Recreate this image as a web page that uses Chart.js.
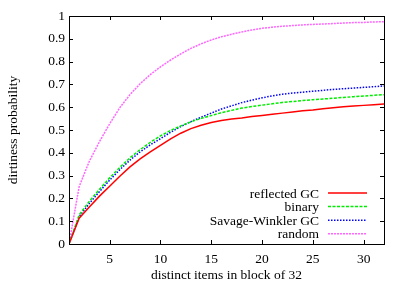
<!DOCTYPE html>
<html>
<head>
<meta charset="utf-8">
<script src="https://cdn.jsdelivr.net/npm/chart.js@4.4.1/dist/chart.umd.min.js"></script>
<style>
html, body { margin: 0; padding: 0; background: #fff; }
</style>
</head>
<body>
<canvas id="dirtChart" width="407" height="285"></canvas>
<script>
// distinct items in a block of 32
const items = [1, 2, 3, 4, 5, 6, 7, 8, 9, 10, 11, 12, 13, 14, 15, 16,
               17, 18, 19, 20, 21, 22, 23, 24, 25, 26, 27, 28, 29, 30, 31, 32];

const reflectedGC = [0, 0.113, 0.162, 0.21, 0.253, 0.297, 0.338, 0.373, 0.404, 0.433, 0.461, 0.486,
                     0.506, 0.521, 0.533, 0.542, 0.548, 0.553, 0.559, 0.564, 0.569, 0.574, 0.579, 0.584,
                     0.588, 0.593, 0.598, 0.602, 0.605, 0.608, 0.611, 0.614];
const binary = [0, 0.128, 0.187, 0.24, 0.29, 0.336, 0.378, 0.414, 0.446, 0.474, 0.498, 0.518,
                0.536, 0.551, 0.563, 0.576, 0.586, 0.596, 0.603, 0.609, 0.615, 0.621, 0.625, 0.629,
                0.633, 0.636, 0.639, 0.643, 0.646, 0.649, 0.652, 0.655];
const savageWinkler = [0, 0.12, 0.178, 0.23, 0.28, 0.326, 0.368, 0.404, 0.435, 0.462, 0.49, 0.515,
                       0.537, 0.556, 0.574, 0.592, 0.606, 0.62, 0.631, 0.641, 0.65, 0.657, 0.662, 0.666,
                       0.67, 0.674, 0.678, 0.681, 0.684, 0.687, 0.69, 0.693];
const random = [0, 0.252, 0.363, 0.449, 0.527, 0.598, 0.655, 0.703, 0.743, 0.777, 0.807, 0.834,
                0.858, 0.878, 0.895, 0.909, 0.92, 0.93, 0.939, 0.946, 0.951, 0.955, 0.958, 0.961,
                0.963, 0.965, 0.967, 0.969, 0.971, 0.972, 0.974, 0.975];

const xTicks = [5, 10, 15, 20, 25, 30];
const yTicks = [0, 0.1, 0.2, 0.3, 0.4, 0.5, 0.6, 0.7, 0.8, 0.9, 1];

const series = [
    { label: "reflected GC", values: reflectedGC, color: "#ff0000", dash: [] },
    { label: "binary", values: binary, color: "#00ee00", dash: [3, 1.5] },
    { label: "Savage-Winkler GC", values: savageWinkler, color: "#0000ff", dash: [1.5, 1.5] },
    { label: "random", values: random, color: "#ff66ff", dash: [2, 1] }
];

Chart.defaults.font.family = "'Liberation Serif', 'Times New Roman', serif";
Chart.defaults.font.size = 13.5;
Chart.defaults.color = "#000";

// gnuplot style box with inward ticks on all four sides
const frame = {
    id: "frame",
    afterDatasetsDraw(chart) {
        const ctx = chart.ctx, a = chart.chartArea;
        const xs = chart.scales.x, ys = chart.scales.y;
        ctx.save();
        ctx.strokeStyle = "#000";
        ctx.lineWidth = 1;
        ctx.beginPath();
        xTicks.forEach(v => {
            const px = Math.round(xs.getPixelForValue(v)) + 0.5;
            ctx.moveTo(px, a.bottom); ctx.lineTo(px, a.bottom - 4);
            ctx.moveTo(px, a.top); ctx.lineTo(px, a.top + 4);
        });
        yTicks.forEach(v => {
            const py = Math.round(ys.getPixelForValue(v)) + 0.5;
            ctx.moveTo(a.left, py); ctx.lineTo(a.left + 4, py);
            ctx.moveTo(a.right, py); ctx.lineTo(a.right - 4, py);
        });
        ctx.stroke();
        ctx.strokeRect(Math.round(a.left) + 0.5, Math.round(a.top) + 0.5,
                       Math.round(a.right - a.left), Math.round(a.bottom - a.top));
        ctx.restore();
    }
};

// legend in the lower right corner, text right aligned before the sample line
const keyBox = {
    id: "keyBox",
    afterDraw(chart) {
        const ctx = chart.ctx, a = chart.chartArea;
        ctx.save();
        ctx.font = "13.5px 'Liberation Serif', 'Times New Roman', serif";
        ctx.textAlign = "right";
        ctx.textBaseline = "middle";
        chart.data.datasets.forEach((ds, i) => {
            const y = a.bottom - 51 + i * 13.6;
            ctx.fillStyle = "#000";
            ctx.fillText(ds.label, a.right - 65, y + 1);
            ctx.strokeStyle = ds.borderColor;
            ctx.lineWidth = ds.borderWidth;
            ctx.setLineDash(ds.borderDash);
            ctx.beginPath();
            ctx.moveTo(a.right - 56, y);
            ctx.lineTo(a.right - 17, y);
            ctx.stroke();
        });
        ctx.restore();
    }
};

new Chart(document.getElementById("dirtChart").getContext("2d"), {
    type: "line",
    data: {
        datasets: series.map(s => ({
            label: s.label,
            data: items.map((x, i) => ({ x: x, y: s.values[i] })),
            borderColor: s.color,
            borderWidth: 1.5,
            borderDash: s.dash,
            pointRadius: 0,
            tension: 0,
            fill: false
        }))
    },
    options: {
        responsive: false,
        animation: false,
        layout: { padding: { left: 0, right: 23, top: 16, bottom: 0 } },
        plugins: {
            legend: { display: false },
            tooltip: { enabled: false }
        },
        scales: {
            x: {
                type: "linear",
                min: 1,
                max: 32,
                grid: { display: false, drawTicks: false },
                border: { display: false },
                afterBuildTicks: scale => { scale.ticks = xTicks.map(v => ({ value: v })); },
                afterFit: scale => { scale.height = 41; },
                ticks: { padding: 7, maxRotation: 0, autoSkip: false },
                title: { display: true, text: "distinct items in block of 32", padding: { top: 0, bottom: 1 } }
            },
            y: {
                min: 0,
                max: 1,
                grid: { display: false, drawTicks: false },
                border: { display: false },
                afterBuildTicks: scale => { scale.ticks = yTicks.map(v => ({ value: v })); },
                afterFit: scale => { scale.width = 69; },
                ticks: {
                    padding: 4,
                    autoSkip: false,
                    callback: v => String(Number(v.toFixed(1)))
                },
                title: { display: true, text: "dirtiness probability", padding: { top: 5, bottom: 0 } }
            }
        }
    },
    plugins: [frame, keyBox]
});
</script>
</body>
</html>
